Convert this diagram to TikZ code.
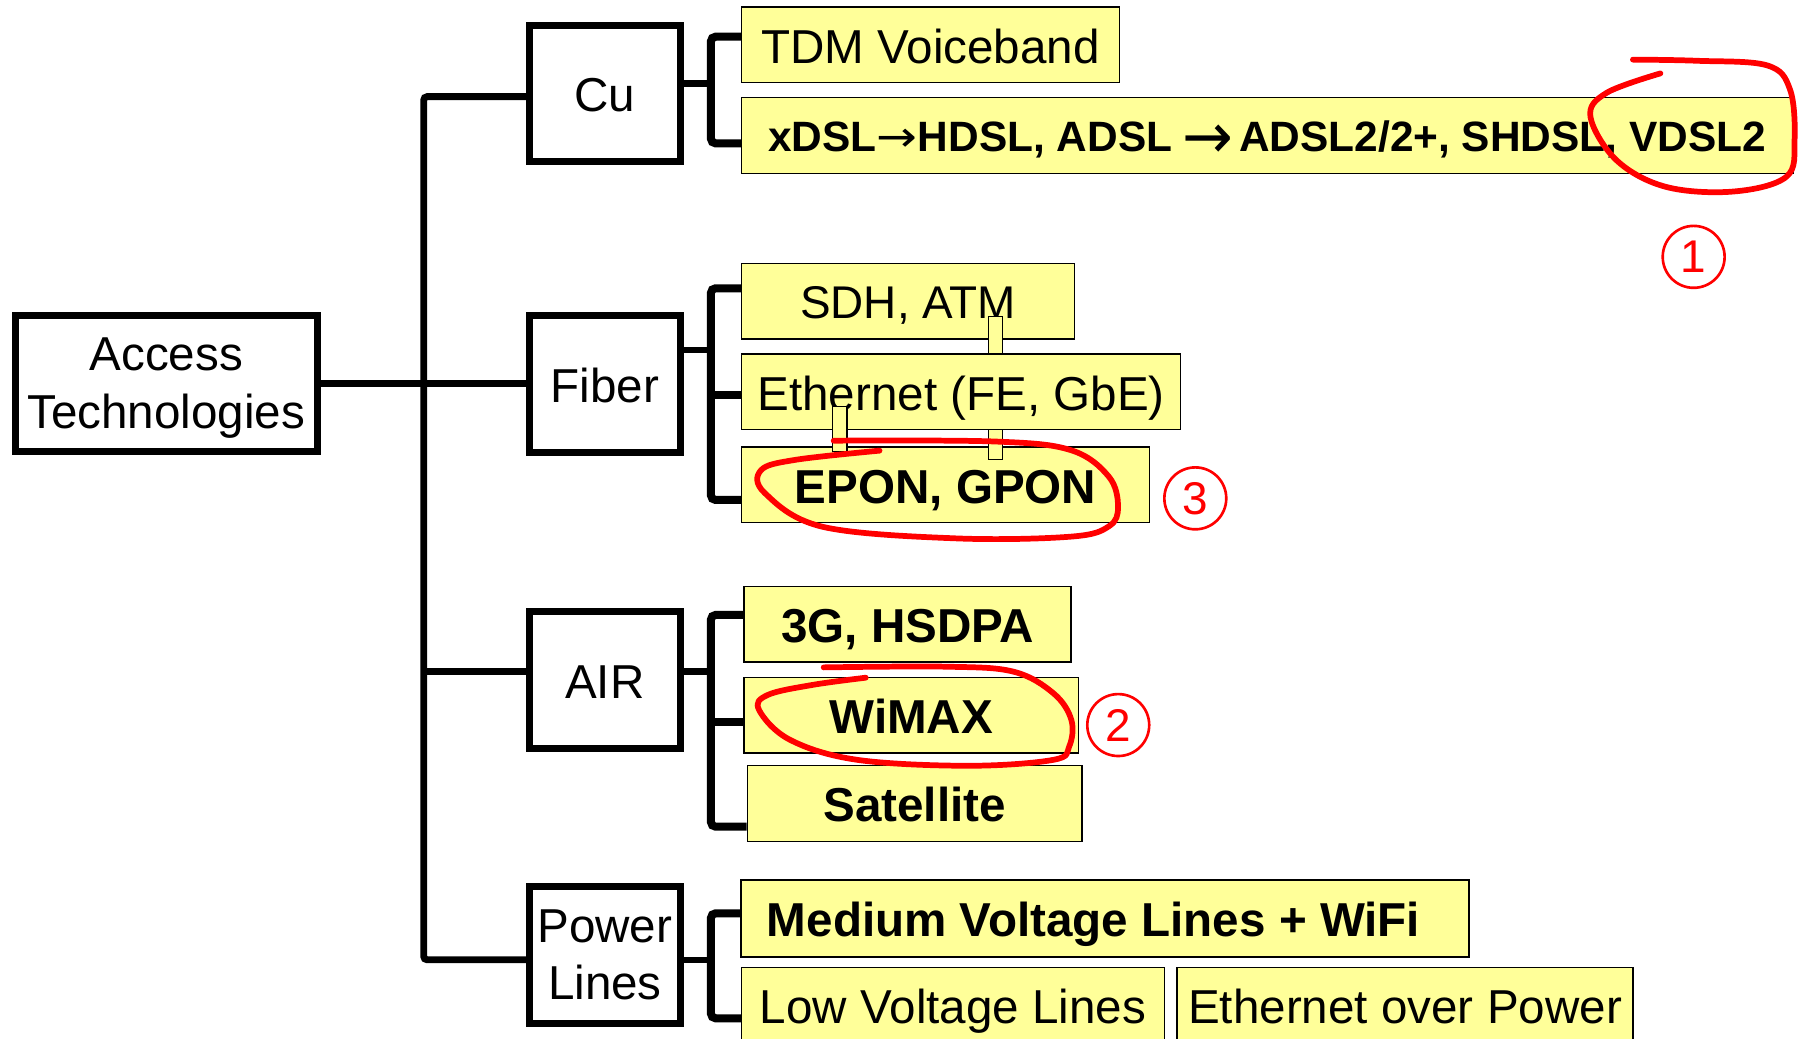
\documentclass[tikz,border=0pt]{standalone}
\usepackage{fontspec}
\usepackage{graphicx}
\setmainfont{Liberation Sans}
\newfontfamily\arrowfont{DejaVu Sans}
\usetikzlibrary{positioning}
\definecolor{accessYellow}{RGB}{255, 255, 153}
\definecolor{accessRed}{RGB}{255, 0, 0}

\begin{document}
\begin{tikzpicture}[
  x=1pt, y=-1pt,
  tech/.style={draw, line width=6pt, minimum width=132pt, minimum height=119pt,
               inner sep=0pt, align=center, font=\fontsize{41.5}{50}\selectfont},
  oneline/.style={text height=32pt, text depth=0pt},
  ybox/.style={draw, line width=1.3pt, fill=accessYellow, anchor=north west,
               minimum height=66pt, inner sep=0pt, text height=32pt, text depth=0pt,
               font=\fontsize{41.5}{50}\selectfont},
  boldtext/.style={font=\fontsize{41.5}{50}\selectfont\bfseries},
  sliver/.style={draw, line width=1pt, fill=accessYellow},
  trunk/.style={line width=6pt, rounded corners=3pt},
  stub/.style={line width=5.5pt},
  bracket/.style={line width=7pt, rounded corners=4pt},
  ring/.style={circle, draw=accessRed, text=accessRed, line width=2.3pt,
               minimum size=54pt, inner sep=0pt, font=\fontsize{40}{40}\selectfont},
  redloop/.style={draw=accessRed, line width=5pt, line cap=round, line join=round}
]
\useasboundingbox (0,0) rectangle (1568,906);

\node[tech, minimum width=263pt] (acc) at (145,334.3) {Access\\Technolo\smash{g}ies};
\node[tech, oneline] (cu) at (527.5,81.4) {Cu};
\node[tech, oneline] (fiber) at (527.5,335) {Fiber};
\node[tech, oneline] (air) at (527.5,593) {AIR};
\node[tech] (power) at (527.5,832.8) {Power\\Lines};

\node[ybox, minimum width=329.5pt] (tdm) at (646,5.5) {TDM Voiceband};
\node[ybox, minimum width=917pt, text height=27.5pt, font=\fontsize{37}{44}\selectfont\bfseries]
  (xdsl) at (646,84.5)
  {xDSL{\arrowfont\mdseries\scalebox{1.15}[1]{→}}HDSL, ADSL\kern9pt\raisebox{-6pt}{\arrowfont\mdseries\scalebox{1.43}[1.5]{→}}\kern5pt ADSL2/2+, SHDSL, VDSL2};

\node[ybox, minimum width=290.6pt, text height=31pt, font=\fontsize{40}{48}\selectfont]
  (sdh) at (646,229) {SDH, ATM};
\node[ybox, minimum width=356pt, boldtext] (epon) at (646,389) {EPON, GPON};
\draw[sliver] (862,276) rectangle (874,400.5);
\node[ybox, minimum width=383pt] (eth) at (646,308) {Ethernet (FE, GbE)};
\draw[sliver] (726,354.6) rectangle (738.7,394);

\node[ybox, minimum width=285.3pt, boldtext] (hsdpa) at (648.2,510.7) {3G, HSDPA};
\node[ybox, minimum width=292pt, boldtext] (wimax) at (648,590) {WiMAX};
\node[ybox, minimum width=292pt, boldtext] (sat) at (651,667) {Satellite};

\node[ybox, minimum width=635.2pt, minimum height=67pt, boldtext]
  (mvl) at (645.4,766.8) {Medium Voltage Lines + WiFi\hspace*{20pt}};
\node[ybox, minimum width=369pt] (lvl) at (646,843) {Low Voltage Lines};
\node[ybox, minimum width=397.8pt] (eop) at (1025.8,843) {Ethernet over Power};

\coordinate (tTop) at (369.5,84.3);
\coordinate (tAir) at (369.5,585.7);
\coordinate (tBot) at (369.5,837);
\draw[trunk] (cu.west |- tTop) -- (tTop) -- (tBot) -- (power.west |- tBot);
\draw[trunk] (acc.east) -- (fiber.west |- acc.east);
\draw[trunk] (tAir) -- (air.west |- tAir);

\coordinate (cuM) at (620,72.7);
\coordinate (cuT) at (620,32);
\coordinate (cuB) at (620,125);
\draw[stub] (cu.east |- cuM) -- (cuM);
\draw[bracket] (tdm.west |- cuT) -- (cuT) -- (cuB) -- (xdsl.west |- cuB);

\coordinate (fiM) at (620,305);
\coordinate (fiT) at (620,251.4);
\coordinate (fiE) at (620,344.5);
\coordinate (fiB) at (620,436);
\draw[stub] (fiber.east |- fiM) -- (fiM);
\draw[bracket] (sdh.west |- fiT) -- (fiT) -- (fiB) -- (epon.west |- fiB);
\draw[bracket] (fiE) -- (eth.west |- fiE);

\coordinate (aiM) at (620,585.7);
\coordinate (aiT) at (620,536.3);
\coordinate (aiW) at (620,629.3);
\coordinate (aiB) at (620,720.9);
\draw[stub] (air.east |- aiM) -- (aiM);
\draw[bracket] (hsdpa.west |- aiT) -- (aiT) -- (aiB) -- (sat.west |- aiB);
\draw[bracket] (aiW) -- (wimax.west |- aiW);

\coordinate (poM) at (620,837);
\coordinate (poT) at (620,796.5);
\coordinate (poB) at (620,888);
\draw[stub] (power.east |- poM) -- (poM);
\draw[bracket] (mvl.west |- poT) -- (poT) -- (poB) -- (lvl.west |- poB);

\node[ring] (one) at (1477,224) {1};
\node[ring] (two) at (975.2,632.3) {2};
\node[ring] (three) at (1042.4,434.6) {3};

\draw[redloop] plot[smooth, tension=0.6] coordinates {(1424,52) (1480,53) (1541,57)
  (1561,78) (1565,122) (1558,154) (1512,167) (1453,163) (1410,140) (1387,102)
  (1401,81) (1448,64)};
\draw[redloop] plot[smooth, tension=0.6] coordinates {(727,384.3) (867,385) (933.7,392.5)
  (967,415.7) (975,442) (967,459) (933.7,468) (833.7,469.5) (717,459.3) (667,430)
  (663.7,410) (693.7,401) (767,393)};
\draw[redloop] plot[smooth, tension=0.6] coordinates {(718.3,582) (825.3,581.4) (883.7,585.7)
  (918.7,604.6) (934.3,627.8) (932.4,651) (918.7,662.6) (844.7,667.8) (747.4,662.6)
  (689,645.2) (661.9,619) (669.6,606) (708.5,597.3) (755,591)};
\end{tikzpicture}
\end{document}
